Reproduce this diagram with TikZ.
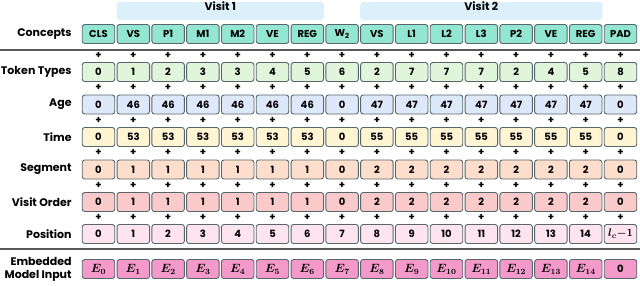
\documentclass[tikz,border=0pt]{standalone}
\usepackage{fontspec}
\setmainfont{Poppins}
\usepackage{amsmath}
\usepackage{tikz}
\usetikzlibrary{positioning, fit, calc}
\definecolor{conceptfill}{HTML}{93E6D2}
\definecolor{tokenfill}{HTML}{E0F5D9}
\definecolor{agefill}{HTML}{DDE9FA}
\definecolor{timefill}{HTML}{FFF5D3}
\definecolor{segfill}{HTML}{FDDDCB}
\definecolor{visitfill}{HTML}{FACACA}
\definecolor{posfill}{HTML}{FDE4EF}
\definecolor{embfill}{HTML}{F49ACB}
\definecolor{headfill}{HTML}{DCF0FB}
\definecolor{boxline}{HTML}{56666A}
\tikzstyle{cell} = [rectangle, rounded corners=2.5pt, minimum width=32.5pt, minimum height=19pt, inner sep=0pt, text centered, draw=boxline, line width=0.9pt, font=\bfseries\fontsize{10}{10}\selectfont]
\tikzstyle{rowlabel} = [anchor=east, align=right, inner sep=0pt, font=\bfseries\fontsize{11}{13}\selectfont]
\tikzstyle{plus} = [inner sep=0pt, font=\bfseries\fontsize{10}{10}\selectfont]
\tikzstyle{visit} = [rectangle, rounded corners=3pt, fill=headfill, inner sep=0pt, font=\bfseries\fontsize{11}{13}\selectfont]
\tikzstyle{divider} = [draw=black!65, line width=1.3pt]
\begin{document}
\begin{tikzpicture}[x=1pt, y=-1pt, node distance=10pt]
    \useasboundingbox (0,0) rectangle (640,285);

    % Concepts
    \foreach \v [count=\i from 0] in {CLS, VS, P1, M1, M2, VE, REG, {W\textsubscript{2}}, VS, L1, L2, L3, P2, VE, REG, PAD}
        \node (con-\i) [cell, fill=conceptfill] at (98.5+34.8*\i, 34) {\v};
    \node (lcon) [rowlabel, left=of con-0] {Concepts};

    % Visits
    \node (visit1) [visit, fit={(con-1.west |- 0,2) (con-6.east |- 0,20)}] {Visit 1};
    \node (visit2) [visit, fit={(con-8.west |- 0,2) (con-14.east |- 0,20)}] {Visit 2};

    % Token Types
    \foreach \v [count=\i from 0] in {0, 1, 2, 3, 3, 4, 5, 6, 2, 7, 7, 7, 2, 4, 5, 8}
        \node (tok-\i) [cell, fill=tokenfill] at (98.5+34.8*\i, 72) {\v};
    \node (ltok) [rowlabel, left=of tok-0] {Token Types};

    % Age
    \foreach \v [count=\i from 0] in {0, 46, 46, 46, 46, 46, 46, 0, 47, 47, 47, 47, 47, 47, 47, 0}
        \node (age-\i) [cell, fill=agefill] at (98.5+34.8*\i, 104.5) {\v};
    \node (lage) [rowlabel, left=of age-0] {Age};

    % Time
    \foreach \v [count=\i from 0] in {0, 53, 53, 53, 53, 53, 53, 0, 55, 55, 55, 55, 55, 55, 55, 0}
        \node (time-\i) [cell, fill=timefill] at (98.5+34.8*\i, 137) {\v};
    \node (ltime) [rowlabel, left=of time-0] {Time};

    % Segment
    \foreach \v [count=\i from 0] in {0, 1, 1, 1, 1, 1, 1, 0, 2, 2, 2, 2, 2, 2, 2, 0}
        \node (seg-\i) [cell, fill=segfill] at (98.5+34.8*\i, 169.5) {\v};
    \node (lseg) [rowlabel, left=of seg-0] {Segment};

    % Visit Order
    \foreach \v [count=\i from 0] in {0, 1, 1, 1, 1, 1, 1, 0, 2, 2, 2, 2, 2, 2, 2, 0}
        \node (vis-\i) [cell, fill=visitfill] at (98.5+34.8*\i, 202) {\v};
    \node (lvis) [rowlabel, left=of vis-0] {Visit Order};

    % Position
    \foreach \i in {0,...,14}
        \node (pos-\i) [cell, fill=posfill] at (98.5+34.8*\i, 234) {\i};
    \node (pos-15) [cell, fill=posfill, font=\fontsize{11}{11}\selectfont] at (98.5+34.8*15, 234) {$\boldsymbol{l_c{-}1}$};
    \node (lpos) [rowlabel, left=of pos-0] {Position};

    % Plus signs
    \foreach \r in {tok, age, time, seg, vis, pos}
        \foreach \i in {0,...,15}
            \node [plus, above=3.5pt of \r-\i] {+};

    % Embedded Model Input
    \foreach \i in {0,...,14}
        \node (emb-\i) [cell, fill=embfill, font=\fontsize{12}{12}\selectfont] at (98.5+34.8*\i, 269) {$\boldsymbol{E_{\i}}$};
    \node (emb-15) [cell, fill=embfill] at (98.5+34.8*15, 269) {0};
    \node (lemb) [rowlabel, left=of emb-0] {Embedded\\Model Input};

    % Dividers
    \draw [divider] (0,50) -- (640,50);
    \draw [divider] (0,249) -- (640,249);

\end{tikzpicture}
\end{document}
